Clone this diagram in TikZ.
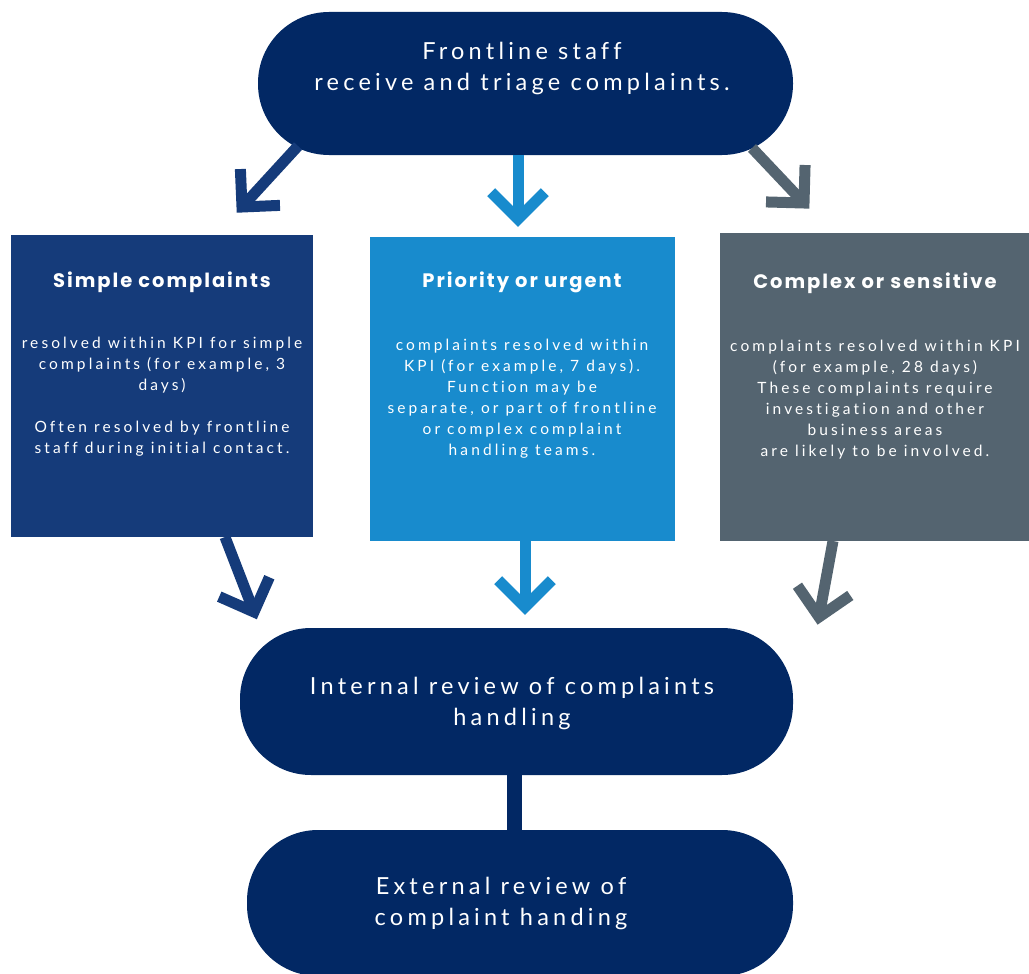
\documentclass[tikz,border=0pt]{standalone}
\usepackage{fontspec}
\setmainfont{Lato}[LetterSpace=20, Ligatures=NoCommon]
\newfontfamily\headfont{Poppins}[LetterSpace=10]
\newfontfamily\pillfont{Lato}[LetterSpace=18, Ligatures=NoCommon]
\usetikzlibrary{calc}

\definecolor{navy}{HTML}{022864}
\definecolor{simpleblue}{HTML}{153B7A}
\definecolor{urgentblue}{HTML}{188BCD}
\definecolor{complexgrey}{HTML}{546470}

\tikzset{
  pill/.style={fill=navy, rounded corners=71pt, text=white},
  cattitle/.style={text=white, font=\headfont\bfseries\fontsize{19.5}{23}\selectfont, anchor=base},
  catbody/.style={text=white, font=\fontsize{15.5}{21}\selectfont, align=center, anchor=north},
  pilltext/.style={text=white, font=\pillfont\fontsize{23.5}{31}\selectfont, align=center},
  shaft/.style={draw=#1, line width=11pt},
  chevron/.style={draw=#1, line width=11pt, line join=miter}
}

% arrow: straight shaft with an open right-angled chevron at the tip
\newcommand{\chevarrow}[3]{%
  \draw[shaft=#3] (#1) -- (#2);
  \draw[chevron=#3] ($(#2)!38pt!45:(#1)$) -- (#2) -- ($(#2)!38pt!-45:(#1)$);
}

\begin{document}
\begin{tikzpicture}[x=1pt, y=-1pt]
  \useasboundingbox (0,0) rectangle (1029,974);
  \fill[white] (0,0) rectangle (1029,974);

  % pills
  \fill[pill] (258,12) rectangle (793,155);
  \node[pilltext] (triage) at (522,68) {Frontline staff\\receive and triage complaints.};

  \fill[pill] (240,628) rectangle (793,775);
  \node[pilltext] (internal) at (512,703) {Internal review of complaints\\handling};

  \fill[pill] (247,830) rectangle (793,976);
  \node[pilltext] (external) at (501,903) {External review of\\complaint handing};

  % link between the two review stages
  \coordinate (linktop) at (514,770);
  \coordinate (linkbot) at (514,835);
  \draw[navy, line width=15pt] (linktop) -- (linkbot);

  % category boxes
  \fill[simpleblue] (11,235) rectangle (313,537);
  \fill[urgentblue] (370,237) rectangle (675,541);
  \fill[complexgrey] (720,233) rectangle (1029,541);

  \node[cattitle] (simpleT) at (162,287) {Simple complaints};
  \node[catbody] (simpleB) at (162,334) {resolved within KPI for simple\\complaints (for example, 3\\days)\\[21pt]Often resolved by frontline\\staff during initial contact.};

  \node[cattitle] (urgentT) at (522,287) {Priority or urgent};
  \node[catbody] (urgentB) at (522,336) {complaints resolved within\\KPI (for example, 7 days).\\Function may be\\separate, or part of frontline\\or complex complaint\\handling teams.};

  \node[cattitle] (complexT) at (875,288) {Complex or sensitive};
  \node[catbody] (complexB) at (875,337) {complaints resolved within KPI\\(for example, 28 days)\\These complaints require\\investigation and other\\business areas\\are likely to be involved.};

  % arrows from triage to categories
  \coordinate (a1s) at (298,146); \coordinate (a1t) at (242,207);
  \coordinate (a2s) at (518,155); \coordinate (a2t) at (518,219);
  \coordinate (a3s) at (752,148); \coordinate (a3t) at (804,203);
  \chevarrow{a1s}{a1t}{simpleblue}
  \chevarrow{a2s}{a2t}{urgentblue}
  \chevarrow{a3s}{a3t}{complexgrey}

  % arrows from categories to internal review
  \coordinate (b1s) at (225,537); \coordinate (b1t) at (254,612);
  \coordinate (b2s) at (525,541); \coordinate (b2t) at (525,607);
  \coordinate (b3s) at (833,541); \coordinate (b3t) at (819,617);
  \chevarrow{b1s}{b1t}{simpleblue}
  \chevarrow{b2s}{b2t}{urgentblue}
  \chevarrow{b3s}{b3t}{complexgrey}
\end{tikzpicture}
\end{document}
